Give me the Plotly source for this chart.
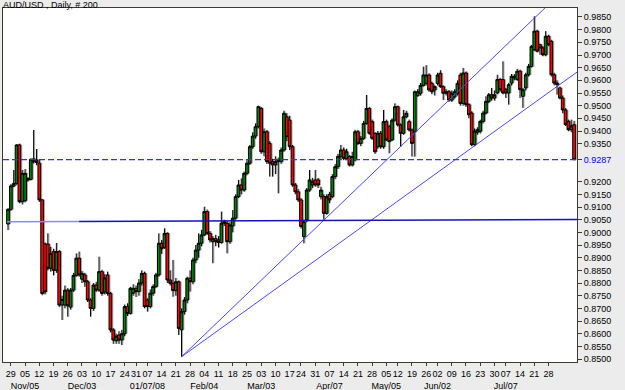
import pandas as pd
import plotly.graph_objects as go

# ---------------- data ----------------
holidays = ["2007-12-25", "2008-01-01", "2008-03-21", "2008-05-05", "2008-05-26", "2008-07-04"]
all_days = pd.bdate_range("2007-10-26", "2008-08-08")
dates = [d for d in all_days if d.strftime("%Y-%m-%d") not in holidays]

opens = [
    0.9033, 0.9091, 0.9183, 0.9193, 0.9345, 0.9121, 0.9125, 0.9212, 0.9209, 0.9290,
    0.9286, 0.9273, 0.9128, 0.8954, 0.8954, 0.8858, 0.8924, 0.8850, 0.8924, 0.8713,
    0.8713, 0.8772, 0.8705, 0.8772, 0.8830, 0.8898, 0.8815, 0.8832, 0.8805, 0.8733,
    0.8700, 0.8792, 0.8772, 0.8845, 0.8765, 0.8832, 0.8759, 0.8615, 0.8572, 0.8595,
    0.8575, 0.8600, 0.8707, 0.8680, 0.8760, 0.8779, 0.8766, 0.8800, 0.8838, 0.8733,
    0.8707, 0.8760, 0.8786, 0.8832, 0.8957, 0.8940, 0.8996, 0.8812, 0.8799, 0.8770,
    0.8805, 0.8615, 0.8687, 0.8733, 0.8819, 0.8805, 0.8891, 0.8930, 0.8957, 0.8990,
    0.9082, 0.8996, 0.8963, 0.8975, 0.8970, 0.8960, 0.9042, 0.9036, 0.8963, 0.9025,
    0.9056, 0.9141, 0.9187, 0.9167, 0.9233, 0.9273, 0.9338, 0.9380, 0.9417, 0.9489,
    0.9318, 0.9397, 0.9351, 0.9279, 0.9266, 0.9279, 0.9279, 0.9325, 0.9456, 0.9443,
    0.9338, 0.9187, 0.9160, 0.9128, 0.8983, 0.9049, 0.9167, 0.9187, 0.9207, 0.9207,
    0.9141, 0.9141, 0.9075, 0.9150, 0.9141, 0.9220, 0.9259, 0.9300, 0.9325, 0.9292,
    0.9299, 0.9266, 0.9286, 0.9397, 0.9351, 0.9371, 0.9430, 0.9489, 0.9437, 0.9391,
    0.9338, 0.9391, 0.9338, 0.9437, 0.9417, 0.9365, 0.9443, 0.9496, 0.9424, 0.9391,
    0.9456, 0.9437, 0.9404, 0.9397, 0.9540, 0.9549, 0.9580, 0.9588, 0.9621, 0.9588,
    0.9562, 0.9588, 0.9628, 0.9575, 0.9549, 0.9555, 0.9522, 0.9535, 0.9549, 0.9621,
    0.9509, 0.9629, 0.9504, 0.9471, 0.9346, 0.9395, 0.9399, 0.9438, 0.9471, 0.9517,
    0.9543, 0.9530, 0.9550, 0.9603, 0.9603, 0.9563, 0.9550, 0.9589, 0.9609, 0.9603,
    0.9636, 0.9537, 0.9570, 0.9622, 0.9655, 0.9721, 0.9794, 0.9741, 0.9728, 0.9701,
    0.9774, 0.9754, 0.9622, 0.9589, 0.9570, 0.9530, 0.9483, 0.9438, 0.9405, 0.9425,
]
highs = [
    0.9095, 0.9190, 0.9246, 0.9348, 0.9350, 0.9246, 0.9250, 0.9218, 0.9292, 0.9404,
    0.9329, 0.9288, 0.9132, 0.8960, 0.8996, 0.8943, 0.8935, 0.8958, 0.8930, 0.8750,
    0.8790, 0.8780, 0.8780, 0.8840, 0.8917, 0.8924, 0.8848, 0.8840, 0.8812, 0.8740,
    0.8800, 0.8805, 0.8904, 0.8852, 0.8835, 0.8845, 0.8765, 0.8622, 0.8600, 0.8610,
    0.8615, 0.8715, 0.8720, 0.8785, 0.8795, 0.8790, 0.8815, 0.8850, 0.8845, 0.8740,
    0.8775, 0.8795, 0.8840, 0.8996, 0.8970, 0.9016, 0.9000, 0.8850, 0.8891, 0.8820,
    0.8810, 0.8700, 0.8745, 0.8825, 0.8850, 0.8900, 0.8950, 0.8996, 0.9010, 0.9101,
    0.9090, 0.9005, 0.8985, 0.8990, 0.8985, 0.9082, 0.9050, 0.9045, 0.9040, 0.9088,
    0.9150, 0.9207, 0.9213, 0.9240, 0.9285, 0.9345, 0.9395, 0.9430, 0.9500, 0.9495,
    0.9410, 0.9404, 0.9360, 0.9290, 0.9300, 0.9295, 0.9335, 0.9480, 0.9470, 0.9460,
    0.9345, 0.9195, 0.9170, 0.9135, 0.9050, 0.9175, 0.9246, 0.9215, 0.9246, 0.9215,
    0.9180, 0.9150, 0.9150, 0.9160, 0.9230, 0.9270, 0.9310, 0.9345, 0.9335, 0.9330,
    0.9305, 0.9318, 0.9405, 0.9404, 0.9380, 0.9440, 0.9542, 0.9495, 0.9445, 0.9395,
    0.9400, 0.9400, 0.9483, 0.9445, 0.9425, 0.9450, 0.9509, 0.9500, 0.9430, 0.9483,
    0.9480, 0.9445, 0.9410, 0.9560, 0.9565, 0.9590, 0.9654, 0.9660, 0.9628, 0.9595,
    0.9580, 0.9630, 0.9640, 0.9580, 0.9565, 0.9562, 0.9560, 0.9565, 0.9600, 0.9630,
    0.9649, 0.9635, 0.9510, 0.9478, 0.9410, 0.9415, 0.9445, 0.9480, 0.9537, 0.9550,
    0.9570, 0.9560, 0.9622, 0.9610, 0.9675, 0.9570, 0.9590, 0.9625, 0.9625, 0.9645,
    0.9642, 0.9570, 0.9630, 0.9665, 0.9740, 0.9853, 0.9800, 0.9745, 0.9735, 0.9794,
    0.9780, 0.9760, 0.9630, 0.9600, 0.9575, 0.9540, 0.9490, 0.9445, 0.9445, 0.9440,
]
lows = [
    0.9009, 0.9085, 0.9178, 0.9188, 0.9115, 0.9110, 0.9118, 0.9200, 0.9205, 0.9272,
    0.9265, 0.9120, 0.8752, 0.8755, 0.8850, 0.8845, 0.8830, 0.8840, 0.8705, 0.8654,
    0.8700, 0.8667, 0.8695, 0.8765, 0.8825, 0.8825, 0.8800, 0.8785, 0.8725, 0.8667,
    0.8690, 0.8765, 0.8765, 0.8750, 0.8755, 0.8750, 0.8605, 0.8560, 0.8560, 0.8560,
    0.8555, 0.8590, 0.8670, 0.8675, 0.8750, 0.8745, 0.8750, 0.8790, 0.8700, 0.8687,
    0.8700, 0.8750, 0.8780, 0.8825, 0.8915, 0.8935, 0.8800, 0.8790, 0.8746, 0.8750,
    0.8595, 0.8509, 0.8675, 0.8720, 0.8766, 0.8795, 0.8878, 0.8900, 0.8945, 0.8985,
    0.8990, 0.8960, 0.8878, 0.8945, 0.8940, 0.8955, 0.9025, 0.8917, 0.8955, 0.9000,
    0.9050, 0.9135, 0.9150, 0.9160, 0.9225, 0.9266, 0.9330, 0.9370, 0.9410, 0.9310,
    0.9300, 0.9270, 0.9220, 0.9220, 0.9230, 0.9154, 0.9270, 0.9318, 0.9360, 0.9325,
    0.9180, 0.9150, 0.9120, 0.9015, 0.8957, 0.9040, 0.9160, 0.9175, 0.9180, 0.9175,
    0.9130, 0.9050, 0.9070, 0.9115, 0.9135, 0.9210, 0.9250, 0.9290, 0.9285, 0.9285,
    0.9260, 0.9260, 0.9280, 0.9345, 0.9340, 0.9365, 0.9425, 0.9385, 0.9365, 0.9310,
    0.9330, 0.9330, 0.9330, 0.9360, 0.9312, 0.9360, 0.9437, 0.9418, 0.9338, 0.9385,
    0.9450, 0.9398, 0.9299, 0.9299, 0.9535, 0.9540, 0.9575, 0.9580, 0.9555, 0.9545,
    0.9540, 0.9580, 0.9570, 0.9522, 0.9540, 0.9515, 0.9515, 0.9528, 0.9540, 0.9500,
    0.9500, 0.9495, 0.9450, 0.9340, 0.9340, 0.9385, 0.9390, 0.9430, 0.9465, 0.9510,
    0.9520, 0.9520, 0.9545, 0.9555, 0.9545, 0.9530, 0.9504, 0.9580, 0.9600, 0.9598,
    0.9530, 0.9491, 0.9560, 0.9615, 0.9650, 0.9715, 0.9710, 0.9701, 0.9695, 0.9695,
    0.9735, 0.9615, 0.9580, 0.9543, 0.9525, 0.9470, 0.9420, 0.9399, 0.9395, 0.9285,
]
closes = [
    0.9091, 0.9183, 0.9193, 0.9345, 0.9121, 0.9233, 0.9233, 0.9207, 0.9288, 0.9279,
    0.9276, 0.9128, 0.8759, 0.8765, 0.8858, 0.8917, 0.8850, 0.8924, 0.8713, 0.8735,
    0.8772, 0.8710, 0.8772, 0.8830, 0.8898, 0.8832, 0.8838, 0.8805, 0.8733, 0.8700,
    0.8792, 0.8772, 0.8845, 0.8759, 0.8820, 0.8759, 0.8615, 0.8575, 0.8590, 0.8575,
    0.8600, 0.8707, 0.8680, 0.8779, 0.8779, 0.8766, 0.8800, 0.8838, 0.8707, 0.8707,
    0.8760, 0.8786, 0.8832, 0.8957, 0.8935, 0.8996, 0.8812, 0.8799, 0.8770, 0.8805,
    0.8621, 0.8687, 0.8733, 0.8819, 0.8805, 0.8891, 0.8930, 0.8957, 0.8990, 0.9082,
    0.8996, 0.8970, 0.8975, 0.8963, 0.8960, 0.9036, 0.9036, 0.8963, 0.9029, 0.9056,
    0.9141, 0.9187, 0.9167, 0.9233, 0.9273, 0.9338, 0.9380, 0.9417, 0.9496, 0.9318,
    0.9397, 0.9279, 0.9273, 0.9266, 0.9279, 0.9286, 0.9325, 0.9470, 0.9378, 0.9338,
    0.9187, 0.9160, 0.9128, 0.9023, 0.9042, 0.9167, 0.9207, 0.9200, 0.9187, 0.9187,
    0.9167, 0.9075, 0.9141, 0.9128, 0.9220, 0.9259, 0.9300, 0.9325, 0.9292, 0.9318,
    0.9266, 0.9299, 0.9397, 0.9351, 0.9371, 0.9430, 0.9489, 0.9391, 0.9371, 0.9318,
    0.9391, 0.9338, 0.9437, 0.9365, 0.9358, 0.9443, 0.9496, 0.9424, 0.9391, 0.9456,
    0.9470, 0.9404, 0.9351, 0.9555, 0.9555, 0.9580, 0.9621, 0.9621, 0.9562, 0.9555,
    0.9575, 0.9621, 0.9575, 0.9549, 0.9555, 0.9522, 0.9549, 0.9555, 0.9588, 0.9509,
    0.9629, 0.9504, 0.9464, 0.9346, 0.9400, 0.9405, 0.9438, 0.9471, 0.9517, 0.9543,
    0.9530, 0.9543, 0.9603, 0.9563, 0.9550, 0.9550, 0.9583, 0.9616, 0.9616, 0.9636,
    0.9563, 0.9563, 0.9622, 0.9655, 0.9734, 0.9794, 0.9715, 0.9728, 0.9701, 0.9774,
    0.9741, 0.9622, 0.9589, 0.9583, 0.9530, 0.9483, 0.9425, 0.9405, 0.9420, 0.9287,
]

# weekly tick labels (Monday dates) and month labels beneath
day_labels = ["29", "05", "12", "19", "26", "03", "10", "17", "24", "31",
              "07", "14", "21", "28", "04", "11", "18", "25", "03", "10",
              "17", "24", "31", "07", "14", "21", "28", "05", "12", "19",
              "26", "02", "09", "16", "23", "30", "07", "14", "21", "28"]
month_labels = ["", "Nov/05", "", "", "", "Dec/03", "", "", "", "",
                "01/07/08", "", "", "", "Feb/04", "", "", "", "Mar/03", "",
                "", "", "", "Apr/07", "", "", "", "May/05", "", "",
                "", "Jun/02", "", "", "", "", "Jul/07", "", "", ""]

y_tick_labels = ["0.9850", "0.9800", "0.9750", "0.9700", "0.9650", "0.9600", "0.9550",
                 "0.9500", "0.9450", "0.9400", "0.9350", "0.9200", "0.9150", "0.9100",
                 "0.9050", "0.9000", "0.8950", "0.8900", "0.8850", "0.8800", "0.8750",
                 "0.8700", "0.8650", "0.8600", "0.8550", "0.8500"]

# drawn trendlines: (date, price) anchor points
trend_a = [("2008-01-23", 0.8509), ("2008-06-12", 0.9565)]
trend_b = [("2008-01-23", 0.8509), ("2008-06-12", 0.9301)]
support = [("2007-10-26", 0.9042), ("2008-08-08", 0.9051)]
support_faint_until = "2007-11-30"

# ---------------- figure ----------------
n = len(closes)
dates = dates[:n]
xs = list(range(n))
date_str = [d.strftime("%Y-%m-%d") for d in dates]
X_MIN, X_MAX = -1.76, n + 0.03
SHADOW_SHIFT = 0.36

fig = go.Figure()

# grey shadow behind the candles: primary axis, shifted ~1px right
fig.add_trace(go.Candlestick(
    x=[v + SHADOW_SHIFT for v in xs], open=opens, high=highs, low=lows, close=closes,
    increasing=dict(line=dict(color="#a8a8a8", width=1), fillcolor="#a8a8a8"),
    decreasing=dict(line=dict(color="#a8a8a8", width=1), fillcolor="#a8a8a8"),
    hoverinfo="skip", showlegend=False))
# main candles on an overlaying axis with identical range (drawn on top)
fig.add_trace(go.Candlestick(
    x=xs, open=opens, high=highs, low=lows, close=closes, xaxis="x2",
    increasing=dict(line=dict(color="#000000", width=1), fillcolor="#008000"),
    decreasing=dict(line=dict(color="#000000", width=1), fillcolor="#ff0000"),
    showlegend=False))


def line_points(anchors, x_end):
    (d0, p0), (d1, p1) = anchors
    i0, i1 = date_str.index(d0), date_str.index(d1)
    slope = (p1 - p0) / (i1 - i0)
    return [i0, x_end], [p0, p0 + slope * (x_end - i0)]


for anchors in (trend_a, trend_b):
    lx, ly = line_points(anchors, X_MAX)
    fig.add_trace(go.Scatter(x=lx, y=ly, mode="lines", xaxis="x2",
                             line=dict(color="#4a4af5", width=1),
                             hoverinfo="skip", showlegend=False))

sx, sy = line_points(support, X_MAX)
i_f = date_str.index(support_faint_until)
slope_s = (sy[1] - sy[0]) / (sx[1] - sx[0])
y_f = sy[0] + slope_s * (i_f - sx[0])
fig.add_trace(go.Scatter(x=[sx[0] - 0.3, i_f], y=[sy[0], y_f], mode="lines", xaxis="x2",
                         line=dict(color="#8a8af5", width=1.5), hoverinfo="skip", showlegend=False))
fig.add_trace(go.Scatter(x=[i_f, sx[1]], y=[y_f, sy[1]], mode="lines", xaxis="x2",
                         line=dict(color="#1414b4", width=1.5), hoverinfo="skip", showlegend=False))

last_close = closes[-1]
fig.add_shape(type="line", xref="paper", x0=0, x1=1, yref="y", y0=last_close, y1=last_close,
              line=dict(color="#3030ff", width=1.2, dash="6px,3px"))

# x ticks: first bar of each labelled week
week_first = [i for i, d in enumerate(dates)
              if i == 0 or d.isocalendar()[1] != dates[i - 1].isocalendar()[1]]
tick_idx = week_first[1:1 + len(day_labels)]
tick_text = [f"{d}<br>{m}" if m else d for d, m in zip(day_labels, month_labels)]

yvals = [float(t) for t in y_tick_labels] + [last_close]
ytext = y_tick_labels + [f'<span style="color:#0000ff">{last_close:.4f}</span>']

FONT = "Liberation Sans, Arial, sans-serif"
fig.update_layout(
    width=625, height=390,
    margin=dict(l=3, r=48, t=8, b=28, pad=0),
    paper_bgcolor="#ececec", plot_bgcolor="#ffffff",
    font=dict(family=FONT, size=9, color="#000000"),
    boxgap=0.05, boxgroupgap=0,
    xaxis=dict(range=[X_MIN, X_MAX], rangeslider=dict(visible=False),
               tickmode="array", tickvals=tick_idx, ticktext=tick_text, tickangle=0,
               showgrid=False, zeroline=False, showline=True, mirror=True,
               linecolor="#3c3c30", linewidth=1, ticks="outside", ticklen=3,
               tickcolor="#3c3c30", tickfont=dict(size=9), automargin=False),
    xaxis2=dict(range=[X_MIN, X_MAX], overlaying="x", visible=False,
                rangeslider=dict(visible=False)),
    yaxis=dict(range=[0.84883, 0.98855], side="right", tickmode="array",
               tickvals=yvals, ticktext=ytext, showgrid=False, zeroline=False,
               showline=True, mirror=True, linecolor="#3c3c30", linewidth=1,
               ticks="outside", ticklen=4, tickcolor="#3c3c30", tickfont=dict(size=9),
               automargin=False),
    annotations=[dict(text="AUD/USD , Daily, # 200", xref="paper", yref="paper",
                      x=0, y=1, xanchor="left", yanchor="top", yshift=9, xshift=-1,
                      borderpad=0, showarrow=False,
                      font=dict(family=FONT, size=9, color="#000000"))],
)

fig.write_html("out.html")
